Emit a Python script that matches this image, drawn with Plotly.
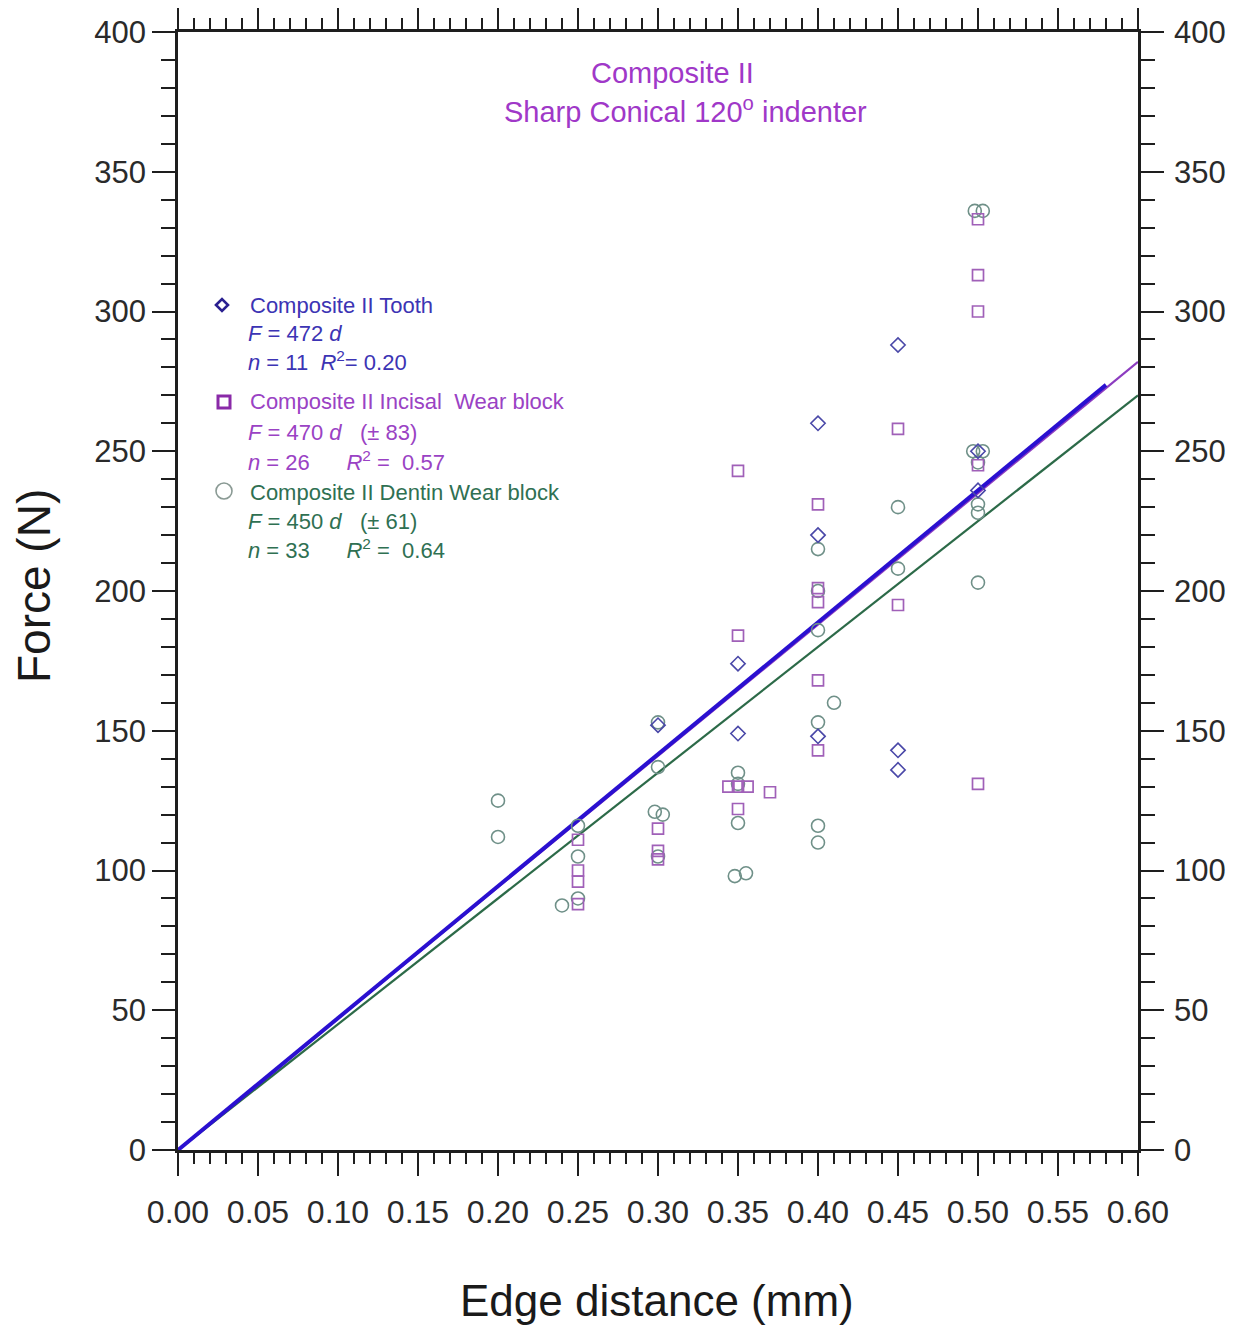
import plotly.graph_objects as go

# ---------------- data ----------------
tooth_d = [0.30, 0.35, 0.35, 0.40, 0.40, 0.40, 0.45, 0.45, 0.45, 0.50, 0.50]
tooth_F = [152, 174, 149, 260, 220, 148, 288, 143, 136, 250, 236]

incisal_d = [0.25, 0.25, 0.25, 0.25, 0.30, 0.30, 0.30,
             0.35, 0.35, 0.344, 0.35, 0.356, 0.35, 0.37,
             0.40, 0.40, 0.40, 0.40, 0.40,
             0.45, 0.45,
             0.50, 0.50, 0.50, 0.50, 0.50]
incisal_F = [111, 100, 96, 88, 115, 107, 104,
             243, 184, 130, 130, 130, 122, 128,
             231, 201, 196, 168, 143,
             258, 195,
             333, 313, 300, 245, 131]

dentin_d = [0.20, 0.20, 0.24, 0.25, 0.25, 0.25,
            0.30, 0.30, 0.298, 0.303, 0.30,
            0.35, 0.35, 0.35, 0.348, 0.355,
            0.40, 0.40, 0.40, 0.40, 0.40, 0.40, 0.41,
            0.45, 0.45,
            0.498, 0.503, 0.497, 0.503, 0.50, 0.50, 0.50, 0.50]
dentin_F = [125, 112, 87.5, 116, 105, 90,
            153, 137, 121, 120, 105,
            135, 131, 117, 98, 99,
            200, 215, 186, 153, 116, 110, 160,
            230, 208,
            336, 336, 250, 250, 231, 228, 246, 203]

fit_slopes = {"tooth": 472, "incisal": 470, "dentin": 450}
fit_xmax = {"tooth": 0.58, "incisal": 0.60, "dentin": 0.60}

x_ticks = [0.00, 0.05, 0.10, 0.15, 0.20, 0.25, 0.30, 0.35, 0.40, 0.45, 0.50, 0.55, 0.60]
y_ticks = [0, 50, 100, 150, 200, 250, 300, 350, 400]

# ---------------- colours ----------------
C_TOOTH_M = "#4a48a8"
C_TOOTH_L = "#2a10d0"
C_INC_M = "#a060b8"
C_INC_L = "#8c3cc0"
C_DEN_M = "#6f9088"
C_DEN_L = "#2c6a48"
C_TITLE = "#a038c8"
C_TOOTH_T = "#3c34b4"
C_INC_T = "#9a42c4"
C_DEN_T = "#2f7052"
AX = "#1e1e1e"

FONT = "Liberation Sans, Arial, sans-serif"

fig = go.Figure()

# fit lines
for key, col, w in [("dentin", C_DEN_L, 2.2), ("incisal", C_INC_L, 2.2), ("tooth", C_TOOTH_L, 4)]:
    xm = fit_xmax[key]
    fig.add_trace(go.Scatter(x=[0, xm], y=[0, fit_slopes[key] * xm], mode="lines",
                             line=dict(color=col, width=w), showlegend=False, hoverinfo="skip"))

fig.add_trace(go.Scatter(x=dentin_d, y=dentin_F, mode="markers", showlegend=False,
                         marker=dict(symbol="circle-open", size=13, color=C_DEN_M, line=dict(width=1.6))))
fig.add_trace(go.Scatter(x=incisal_d, y=incisal_F, mode="markers", showlegend=False,
                         marker=dict(symbol="square-open", size=11, color=C_INC_M, line=dict(width=1.7))))
fig.add_trace(go.Scatter(x=tooth_d, y=tooth_F, mode="markers", showlegend=False,
                         marker=dict(symbol="diamond-open", size=11, color=C_TOOTH_M, line=dict(width=1.6))))

# geometry of plot area in page pixels (page body has an 8px margin)
OFF = 8
W, H = 1249 - OFF, 1330 - OFF
L, R, T, B = 178, 1138, 32, 1150
PW, PH = R - L, B - T


def px(xp):
    return (xp - L) / PW


def py(yp):
    return (B - yp) / PH


xtickfont = dict(family=FONT, size=32, color="#2a2a2a")
ytickfont = dict(family=FONT, size=31, color="#2a2a2a")

fig.update_layout(
    width=W, height=H,
    margin=dict(l=L - OFF, r=W - (R - OFF), t=T - OFF, b=H - (B - OFF), autoexpand=False),
    paper_bgcolor="white", plot_bgcolor="white",
    font=dict(family=FONT),
    xaxis=dict(range=[0, 0.6], tickvals=x_ticks, ticktext=[f"{v:.2f}" for v in x_ticks],
               ticks="outside", ticklen=23, tickwidth=2.2, tickcolor=AX,
               minor=dict(dtick=0.01, ticks="outside", ticklen=11, tickwidth=2, tickcolor=AX),
               showline=True, linecolor=AX, linewidth=2.5, mirror="ticks",
               showgrid=False, zeroline=False, tickfont=xtickfont, automargin=False,
               ticklabelstandoff=9),
    yaxis=dict(range=[0, 400], tickvals=y_ticks,
               ticks="outside", ticklen=23, tickwidth=2.2, tickcolor=AX,
               minor=dict(dtick=10, ticks="outside", ticklen=14, tickwidth=2, tickcolor=AX),
               showline=True, linecolor=AX, linewidth=2.5, mirror=False,
               showgrid=False, zeroline=False, tickfont=ytickfont, automargin=False),
    yaxis2=dict(range=[0, 400], tickvals=y_ticks, overlaying="y", side="right",
                ticks="outside", ticklen=23, tickwidth=2.2, tickcolor=AX,
                minor=dict(dtick=10, ticks="outside", ticklen=14, tickwidth=2, tickcolor=AX),
                showline=True, linecolor=AX, linewidth=2.5,
                showgrid=False, zeroline=False, tickfont=ytickfont, automargin=False,
                ticklabelstandoff=4),
)
fig.add_trace(go.Scatter(x=[0.3], y=[200], yaxis="y2", mode="markers", marker=dict(opacity=0),
                         showlegend=False, hoverinfo="skip"))

# axis titles
fig.add_annotation(x=px(657), y=py(1300), xref="paper", yref="paper", showarrow=False,
                   xanchor="center", yanchor="middle",
                   text="Edge distance (mm)", font=dict(family=FONT, size=44, color="#1a1a1a"))
fig.add_annotation(x=px(34), y=py(586), xref="paper", yref="paper", showarrow=False, textangle=-90,
                   xanchor="center", yanchor="middle",
                   text="Force (N)", font=dict(family=FONT, size=46, color="#1a1a1a"))

# title annotations
fig.add_annotation(x=px(672), y=py(73), xref="paper", yref="paper", showarrow=False,
                   xanchor="center", yanchor="middle",
                   text="Composite II", font=dict(family=FONT, size=29, color=C_TITLE))
fig.add_annotation(x=px(685), y=py(110), xref="paper", yref="paper", showarrow=False,
                   xanchor="center", yanchor="middle",
                   text="Sharp Conical 120<sup style='font-size:70%'>o</sup> indenter",
                   font=dict(family=FONT, size=29, color=C_TITLE))

# legend text
legend_rows = [
    (248, 305, "Composite II Tooth", C_TOOTH_T),
    (246, 333, "<i>F</i> = 472 <i>d</i>", C_TOOTH_T),
    (246, 361, "<i>n</i> = 11  <i>R</i><sup>2</sup>= 0.20", C_TOOTH_T),
    (248, 402, "Composite II Incisal  Wear block", C_INC_T),
    (246, 433, "<i>F</i> = 470 <i>d</i>   (± 83)", C_INC_T),
    (246, 461, "<i>n</i> = 26      <i>R</i><sup>2</sup> =  0.57", C_INC_T),
    (248, 492, "Composite II Dentin Wear block", C_DEN_T),
    (246, 521, "<i>F</i> = 450 <i>d</i>   (± 61)", C_DEN_T),
    (246, 549, "<i>n</i> = 33      <i>R</i><sup>2</sup> =  0.64", C_DEN_T),
]
for xp, yp, txt, col in legend_rows:
    fig.add_annotation(x=px(xp), y=py(yp), xref="paper", yref="paper", showarrow=False,
                       xanchor="left", yanchor="middle", text=txt,
                       font=dict(family=FONT, size=22, color=col))

# legend symbols
fig.add_shape(type="path", xref="paper", yref="paper",
              path=f"M {px(216)} {py(305)} L {px(222)} {py(299)} L {px(228)} {py(305)} L {px(222)} {py(311)} Z",
              line=dict(color="#2a2090", width=2.6))
fig.add_shape(type="rect", xref="paper", yref="paper",
              x0=px(218), x1=px(230), y0=py(408), y1=py(396),
              line=dict(color="#8a2aa8", width=3))
fig.add_shape(type="circle", xref="paper", yref="paper",
              x0=px(216), x1=px(232), y0=py(499), y1=py(483),
              line=dict(color="#8a9a94", width=1.6))

fig.write_html("out.html")
